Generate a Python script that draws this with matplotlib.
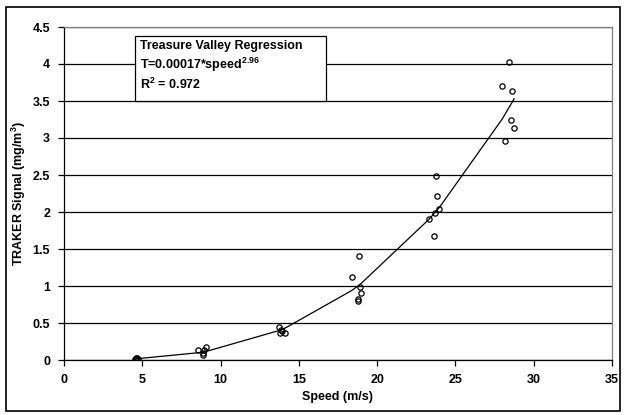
import matplotlib
matplotlib.use("Agg")
import matplotlib.pyplot as plt
from matplotlib.patches import Rectangle

plt.rcParams['font.family'] = ['Liberation Sans', 'DejaVu Sans']
plt.rcParams['mathtext.fontset'] = 'custom'
plt.rcParams['mathtext.bf'] = 'Liberation Sans:bold'
plt.rcParams['mathtext.rm'] = 'Liberation Sans:bold'

# measured points, speed (m/s) and TRAKER signal (mg/m3)
speed = [4.55, 4.6, 4.65, 4.7, 4.62,
         8.58, 9.07, 8.96, 8.9, 8.86,
         13.75, 13.86, 13.95, 14.14, 13.82,
         18.84, 18.41, 18.9, 18.95, 18.8, 18.8,
         23.76, 23.84, 23.97, 23.7, 23.33, 23.65,
         28.42, 27.99, 28.63, 28.53, 28.74, 28.17]
signal = [0.01, 0.02, 0.03, 0.015, 0.025,
          0.14, 0.18, 0.135, 0.10, 0.07,
          0.45, 0.41, 0.39, 0.37, 0.365,
          1.405, 1.12, 0.99, 0.90, 0.83, 0.80,
          2.48, 2.22, 2.04, 1.99, 1.905, 1.68,
          4.03, 3.70, 3.64, 3.24, 3.14, 2.96]

# regression line as drawn (fitted values at the data speeds)
fit_speed = [4.6, 8.6, 9.1, 13.75, 14.15, 18.4, 18.95, 23.33, 24.0, 28.0, 28.75]
fit_signal = [0.016, 0.099, 0.117, 0.399, 0.434, 0.942, 1.029, 1.905, 2.069, 3.26, 3.53]

xticks = [0, 5, 10, 15, 20, 25, 30, 35]
yticks = [0, 0.5, 1, 1.5, 2, 2.5, 3, 3.5, 4, 4.5]
ytick_labels = ['0', '0.5', '1', '1.5', '2', '2.5', '3', '3.5', '4', '4.5']

fs = 9

fig = plt.figure(figsize=(6.26, 4.15), dpi=100)
ax = fig.add_axes([64/626, 1-360/415, (612-64)/626, (360-27)/415])

ax.set_axisbelow(True)
ax.grid(axis='y', color='black', linewidth=0.9)
ax.plot(fit_speed, fit_signal, color='black', linewidth=0.9, zorder=3)
ax.plot(speed, signal, linestyle='none', marker='o', markersize=3.8,
        markerfacecolor='none', markeredgecolor='black', markeredgewidth=0.9, zorder=4)

ax.set_xlim(0, 35)
ax.set_ylim(0, 4.5)
ax.set_xticks(xticks)
ax.set_yticks(yticks)
ax.set_yticklabels(ytick_labels)
ax.tick_params(direction='out', length=4, width=0.9, labelsize=fs, color='black')
for lab in ax.get_xticklabels() + ax.get_yticklabels():
    lab.set_fontweight('bold')
ax.tick_params(axis='x', pad=6)
ax.tick_params(axis='y', pad=6)

ax.spines['left'].set_color('black')
ax.spines['bottom'].set_color('black')
ax.spines['top'].set_color('#808080')
ax.spines['right'].set_color('#808080')
for s in ax.spines.values():
    s.set_linewidth(0.9)

ax.set_xlabel('Speed (m/s)', fontsize=fs, fontweight='bold', labelpad=4)
ax.set_ylabel('TRAKER Signal (mg/m$^3$)', fontsize=fs, fontweight='bold')
ax.yaxis.set_label_coords(-(64-28)/548, 0.5)

# regression text box
box = Rectangle((135/626, 1-101/415), (326-135)/626, (101-36)/415, transform=fig.transFigure,
                facecolor='white', edgecolor='black', linewidth=0.9, zorder=5)
fig.patches.append(box)
for txt, ypx in [('Treasure Valley Regression', 46),
                 ('T=0.00017*speed$^{2.96}$', 65),
                 ('R$^{2}$ = 0.972', 84)]:
    fig.text(140/626, 1-ypx/415, txt, fontsize=fs, fontweight='bold', va='center', zorder=6)

# outer chart frame
frame = Rectangle((6/626, 1-411/415), (620-6)/626, (411-7)/415, transform=fig.transFigure,
                  facecolor='none', edgecolor='black', linewidth=1.2)
fig.patches.append(frame)

fig.savefig('out.png', dpi=100)
